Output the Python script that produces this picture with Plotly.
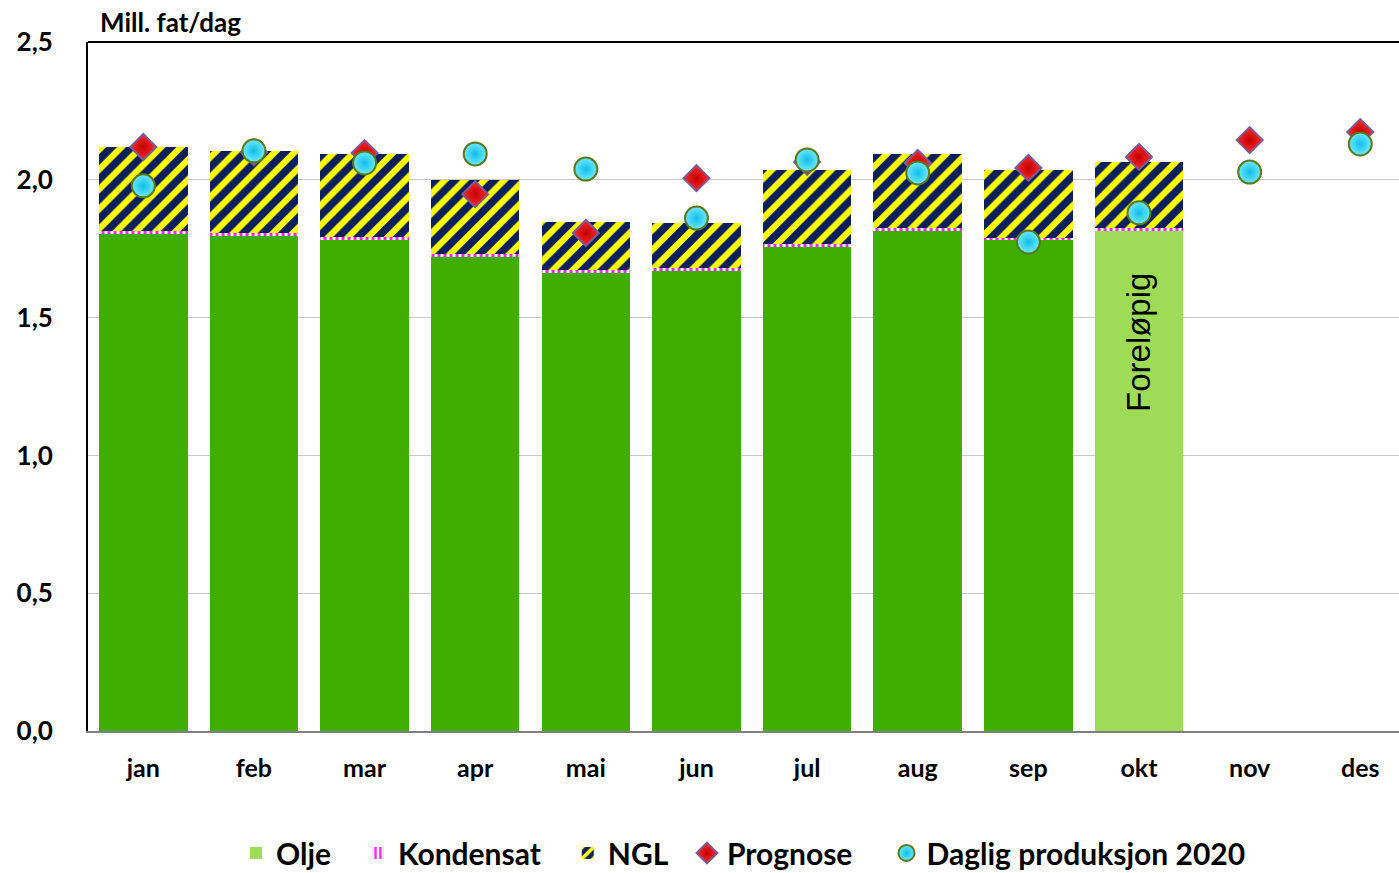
import plotly.graph_objects as go

months = ["jan", "feb", "mar", "apr", "mai", "jun", "jul", "aug", "sep", "okt", "nov", "des"]
olje = [1.803, 1.796, 1.780, 1.720, 1.662, 1.670, 1.758, 1.815, 1.780, 1.815, 0, 0]
kondensat = [0.012, 0.012, 0.012, 0.010, 0.012, 0.010, 0.010, 0.010, 0.010, 0.010, 0, 0]
ngl = [0.305, 0.297, 0.302, 0.270, 0.173, 0.163, 0.267, 0.269, 0.245, 0.240, 0, 0]
prognose = [2.119, 2.100, 2.097, 1.948, 1.807, 2.006, 2.065, 2.061, 2.043, 2.083, 2.144, 2.173]
daglig = [1.978, 2.105, 2.061, 2.094, 2.039, 1.861, 2.072, 2.025, 1.774, 1.880, 2.028, 2.130]
yticks = [0, 0.5, 1.0, 1.5, 2.0, 2.5]

FONT = "Lato"
dark_green = "#3fae00"
light_green = "#9edc58"
olje_colors = [light_green if m == "okt" else dark_green for m in months]
NB = "\u00a0"

fig = go.Figure()
# legend-only entry for Olje (light green swatch)
fig.add_trace(go.Bar(x=[months[0]], y=[None], name="Olje" + NB * 3, marker=dict(color=light_green, line=dict(width=0)),
                     showlegend=True))
fig.add_trace(go.Bar(x=months, y=olje, name="Olje", marker=dict(color=olje_colors, line=dict(width=0)),
                     showlegend=False))
fig.add_trace(go.Bar(x=months, y=kondensat, name="Kondensat" + NB * 3,
                     marker=dict(color="white", line=dict(width=0),
                                 pattern=dict(shape="|", fgcolor="#ff22ff", bgcolor="white", size=6,
                                              solidity=0.5, fgopacity=1))))
fig.add_trace(go.Bar(x=months, y=ngl, name="NGL" + NB * 2,
                     marker=dict(color="#0a1f5c", line=dict(width=0),
                                 pattern=dict(shape="/", fgcolor="#ffff00", bgcolor="#0a1f5c", size=14,
                                              solidity=0.45, fgopacity=1))))
fig.add_trace(go.Scatter(x=months, y=prognose, name="Prognose" + NB * 4, mode="markers",
                         marker=dict(symbol="diamond", size=20, color="#ff2a2a",
                                     gradient=dict(type="radial", color="#c00000"),
                                     line=dict(color="#7a5b9a", width=2))))
fig.add_trace(go.Scatter(x=months, y=daglig, name="Daglig produksjon 2020", mode="markers",
                         marker=dict(symbol="circle", size=23, color="#6ee9ff",
                                     gradient=dict(type="radial", color="#10bde8"),
                                     line=dict(color="#5b7a1c", width=2))))

fig.update_layout(
    width=1399, height=873,
    margin=dict(l=88, r=0, t=42, b=142, autoexpand=False),
    paper_bgcolor="white", plot_bgcolor="white",
    barmode="stack", bargap=0.2,
    separators=", ",
    font=dict(family=FONT, color="black"),
    showlegend=True,
    legend=dict(orientation="h", x=0.5, xanchor="center", y=-0.177, yanchor="middle",
                font=dict(family=FONT, size=30, color="black", weight="bold"),
                itemsizing="trace", traceorder="normal", itemwidth=30),
    xaxis=dict(range=[-0.5, 11.35], showgrid=False, showline=True, linecolor="#7f7f7f", linewidth=2,
               ticks="", tickfont=dict(family=FONT, size=25, weight="bold"), ticklabelstandoff=14,
               fixedrange=True),
    yaxis=dict(range=[0, 2.5], tickvals=yticks, tickformat=".1f", showgrid=True, gridcolor="#c8c8c8",
               gridwidth=1, showline=True, linecolor="black", linewidth=2, ticks="",
               tickfont=dict(family=FONT, size=26, weight="bold"), ticklabelstandoff=28, zeroline=False),
    shapes=[dict(type="line", xref="paper", yref="paper", x0=0, x1=1, y0=1, y1=1,
                 line=dict(color="black", width=2))],
    annotations=[
        dict(text="Mill. fat/dag", xref="paper", yref="paper", x=(98 - 88) / 1311, y=1, xanchor="left",
             yanchor="bottom", yshift=2, showarrow=False, font=dict(family=FONT, size=26, weight="bold")),
        dict(text="Foreløpig", x="okt", y=1.408, textangle=-90, showarrow=False,
             font=dict(family="Liberation Sans", size=33, color="black")),
    ],
)

fig.write_html("out.html", config={"displayModeBar": False})
with open("out.html", "r", encoding="utf-8") as f:
    html = f.read()
html = html.replace("<body>", '<body style="margin:0;padding:0;overflow:hidden">', 1)
with open("out.html", "w", encoding="utf-8") as f:
    f.write(html)
